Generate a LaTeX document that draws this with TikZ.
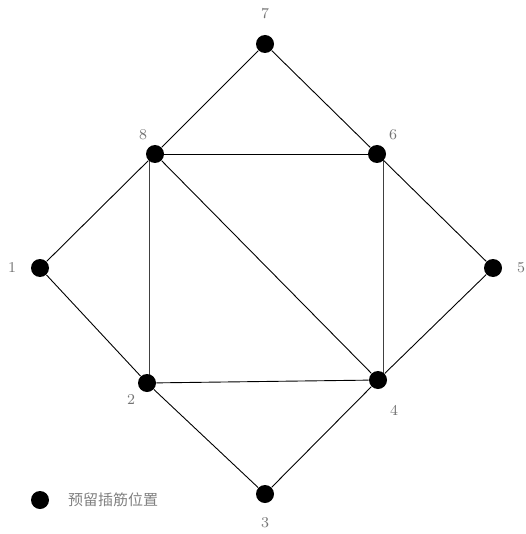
\documentclass[tikz,border=0pt]{standalone}
\usepackage{fontspec}
\newfontfamily\cjk{Noto Sans CJK SC}
\usetikzlibrary{positioning,backgrounds}

\begin{document}
\begin{tikzpicture}[x=0.5pt, y=-0.5pt,
		dowel/.style={circle, fill=black, inner sep=0pt, minimum size=9pt},
		num/.style={text=black!55, font=\fontsize{7.5}{9}\selectfont},
		edge/.style={line width=0.45pt}]
		\useasboundingbox (0, 0) rectangle (525, 534);

		% dowel positions
		\node [dowel] (p7) at (265, 44) {};
		\node [dowel] (p8) at (155, 154) {};
		\node [dowel] (p6) at (377, 154) {};
		\node [dowel] (p1) at (40, 268) {};
		\node [dowel] (p5) at (493, 268) {};
		\node [dowel] (p2) at (147, 383) {};
		\node [dowel] (p4) at (378, 380) {};
		\node [dowel] (p3) at (265, 494) {};

		% outer square
		\draw [edge] (p7) -- (p6) -- (p5) -- (p4) -- (p3) -- (p2) -- (p1) -- (p8) -- (p7);

		% inner square (vertical sides sit a little off the dot centres)
		\draw [edge] (p8) -- (p6);
		\draw [edge] (p2) -- (p4);
		\draw [edge] (p8) -- (p4);
		\begin{scope}[on background layer]
			\coordinate (s8) at (149, 154);
			\coordinate (s6) at (383, 154);
			\draw [edge, black!75] (s8) -- (s8 |- p2);
			\draw [edge, black!75] (s6) -- (s6 |- p4);
		\end{scope}

		% numbers
		\node [num] (n7) at (265, 14) {7};
		\node [num] (n8) at (143, 135) {8};
		\node [num] (n6) at (393, 135) {6};
		\node [num] (n1) at (12, 268) {1};
		\node [num] (n5) at (521, 268) {5};
		\node [num] (n2) at (131, 400) {2};
		\node [num] (n4) at (394, 410) {4};
		\node [num] (n3) at (265, 523) {3};

		% legend
		\node [dowel] (key) at (40, 500) {};
		\node [num, text=black!50, anchor=west, font=\cjk\fontsize{7.5}{9}\selectfont] (keytext) at (61, 500) {预留插筋位置};
	\end{tikzpicture}
\end{document}
